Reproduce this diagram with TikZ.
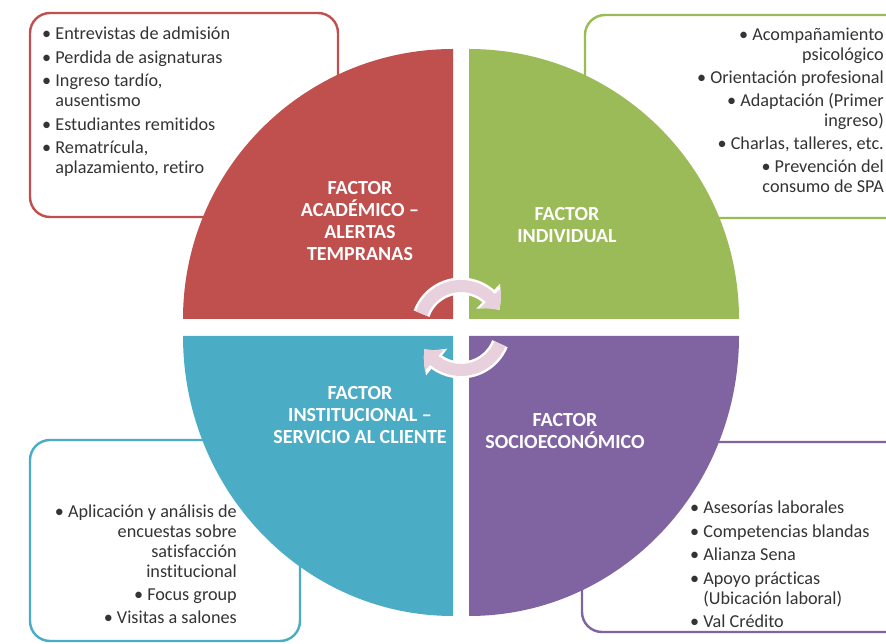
\documentclass[tikz,border=0pt]{standalone}
\usepackage{fontspec}
\setmainfont{Carlito}[Ligatures=NoCommon]
\usepackage{tikz}
\usetikzlibrary{arrows.meta,bending}
\definecolor{FactorRed}{RGB}{192,80,77}
\definecolor{FactorGreen}{RGB}{155,187,89}
\definecolor{FactorBlue}{RGB}{75,172,198}
\definecolor{FactorPurple}{RGB}{128,100,162}
\definecolor{CyclePink}{RGB}{232,208,220}
\definecolor{ListGray}{RGB}{52,52,52}
\newcommand{\cont}{\hphantom{•\ }}

\begin{document}
\begin{tikzpicture}[x=1pt,y=1pt,
  infobox/.style={line width=2.4pt,rounded corners=20pt,fill=white},
  listtxt/.style={inner sep=0pt,font=\fontsize{18.2}{20}\selectfont,text=ListGray},
  factortitle/.style={align=center,inner sep=0pt,font=\fontsize{20}{22}\selectfont\bfseries,text=white},
  cycleedge/.style={draw=white,line width=17pt,-{Triangle[length=18pt,width=33pt,bend]}},
  cyclefill/.style={draw=CyclePink,line width=12pt,-{Triangle[length=15pt,width=27pt,bend]}}]
\clip (0,0) rectangle (886,643);
\fill[white] (0,0) rectangle (886,643);

% cuadros de acciones
\draw[infobox,draw=FactorRed] (30,426) rectangle (338,630);
\draw[infobox,draw=FactorGreen] (585,425) rectangle (910,628);
\draw[infobox,draw=FactorBlue] (30,2) rectangle (300,203);
\draw[infobox,draw=FactorPurple] (582,11) rectangle (910,201);

% circulo en cuatro partes
\fill[FactorRed] (453,324) -- (183,324) arc[start angle=180,end angle=90,radius=270] -- cycle;
\fill[FactorGreen] (469,324) -- (469,594) arc[start angle=90,end angle=0,radius=270] -- cycle;
\fill[FactorBlue] (453,307) -- (183,307) arc[start angle=180,end angle=270,x radius=270,y radius=280] -- cycle;
\fill[FactorPurple] (469,307) -- (739,307) arc[start angle=0,end angle=-90,x radius=270,y radius=280] -- cycle;

\node[factortitle] (acadtitle) at (360,422) {FACTOR\\ACADÉMICO –\\ALERTAS\\TEMPRANAS};
\node[factortitle] (indivtitle) at (567,418) {FACTOR\\INDIVIDUAL};
\node[factortitle] (insttitle) at (360,228) {FACTOR\\INSTITUCIONAL –\\SERVICIO AL CLIENTE};
\node[factortitle] (soctitle) at (565,212) {FACTOR\\SOCIOECONÓMICO};

% flechas del ciclo
\coordinate (hub) at (461,315);
\draw[cycleedge] ([shift={(160:42)}]hub) arc[start angle=160,end angle=25,radius=42];
\draw[cyclefill] ([shift={(160:42)}]hub) arc[start angle=160,end angle=25,radius=42];
\draw[cycleedge] ([shift={(-22:42)}]hub) arc[start angle=-22,end angle=-150,radius=42];
\draw[cyclefill] ([shift={(-22:42)}]hub) arc[start angle=-22,end angle=-150,radius=42];

% listas
\node[listtxt,anchor=north west,align=left] (acadlist) at (42,616)
  {• Entrevistas de admisión\\[3.5pt]• Perdida de asignaturas\\[3.5pt]• Ingreso tardío,\\\cont ausentismo\\[3.5pt]• Estudiantes remitidos\\[3.5pt]• Rematrícula,\\\cont aplazamiento, retiro};
\node[listtxt,anchor=north east,align=right] (indivlist) at (884,615)
  {• Acompañamiento\\psicológico\\[3pt]• Orientación profesional\\[3pt]• Adaptación (Primer\\ingreso)\\[3pt]• Charlas, talleres, etc.\\[3pt]• Prevención del\\consumo de SPA};
\node[listtxt,anchor=north east,align=right] (instlist) at (237,138)
  {• Aplicación y análisis de\\encuestas sobre\\satisfacción\\institucional\\[3pt]• Focus group\\[3pt]• Visitas a salones};
\node[listtxt,anchor=north west,align=left] (soclist) at (690,142)
  {• Asesorías laborales\\[3.5pt]• Competencias blandas\\[3.5pt]• Alianza Sena\\[3.5pt]• Apoyo prácticas\\\cont(Ubicación laboral)\\[3.5pt]• Val Crédito};
\end{tikzpicture}
\end{document}
